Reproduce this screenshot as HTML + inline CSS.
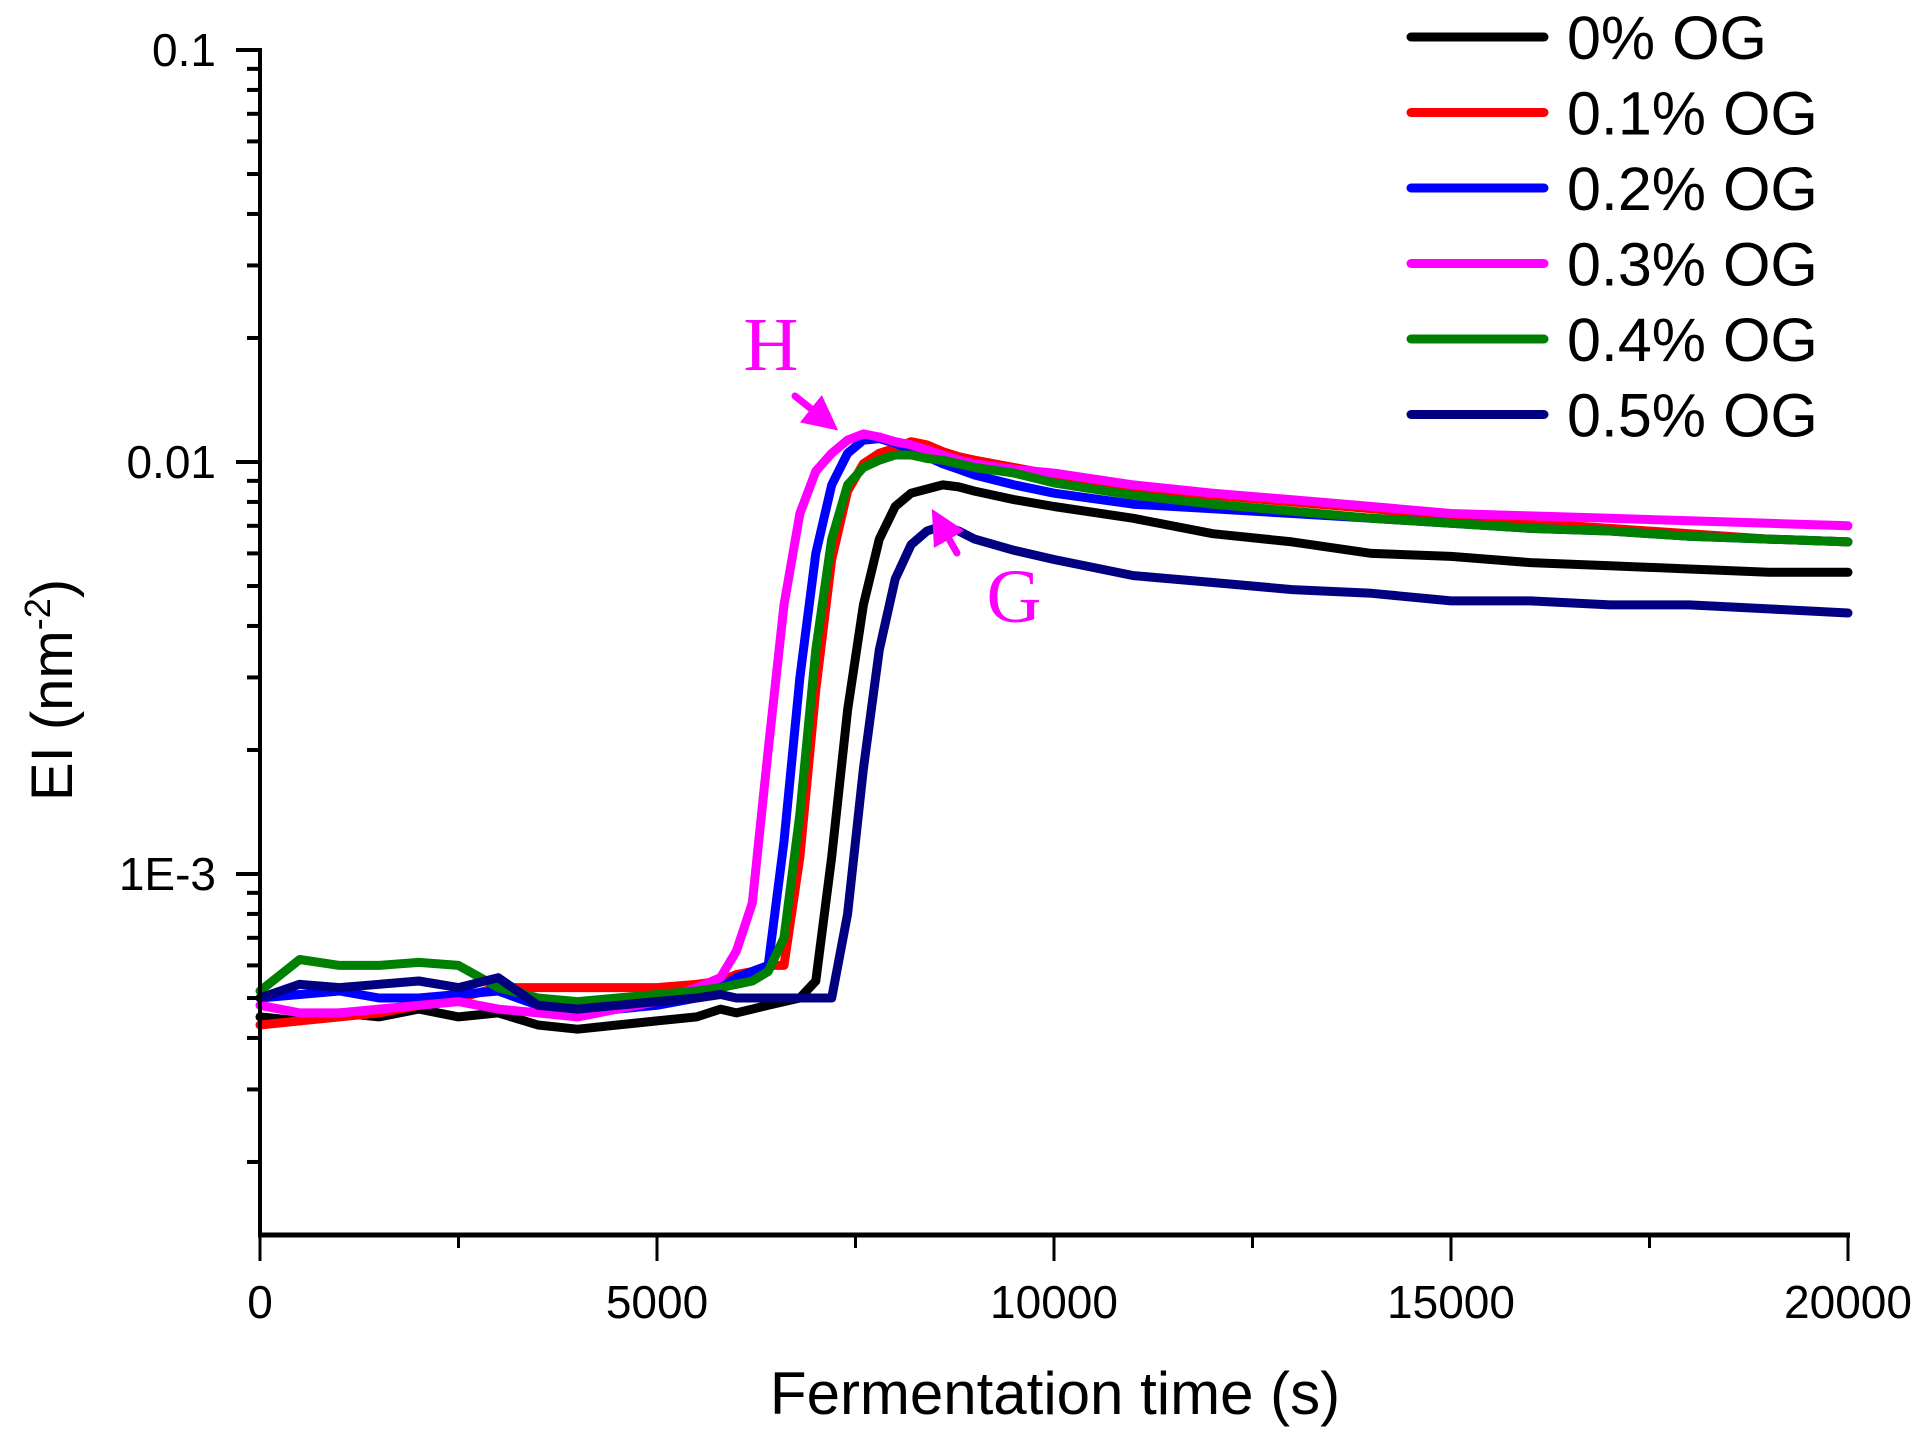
<!DOCTYPE html>
<html><head><meta charset="utf-8">
<style>
html,body{margin:0;padding:0;background:#fff;}
svg{display:block;}
text{font-family:"Liberation Sans",sans-serif;}
</style></head>
<body>
<svg id="chart" width="1922" height="1434" viewBox="0 0 1922 1434" xmlns="http://www.w3.org/2000/svg">
<g id="series"></g>
<g id="axes"></g>
<g id="legend"></g>
<g id="annot"></g>
</svg>
<script>
const times = [0,500,1000,1500,2000,2500,3000,3500,4000,4500,5000,5500,5800,6000,6200,6400,6600,6800,7000,7200,7400,7600,7800,8000,8200,8400,8600,8800,9000,9500,10000,11000,12000,13000,14000,15000,16000,17000,18000,19000,20000];
const s0 = [4.5e-4,4.4e-4,4.6e-4,4.5e-4,4.7e-4,4.5e-4,4.6e-4,4.3e-4,4.2e-4,4.3e-4,4.4e-4,4.5e-4,4.7e-4,4.6e-4,4.7e-4,4.8e-4,4.9e-4,5.0e-4,5.5e-4,0.0011,0.0025,0.0045,0.0065,0.0078,0.0084,0.0086,0.0088,0.0087,0.0085,0.0081,0.0078,0.0073,0.0067,0.0064,0.0060,0.0059,0.0057,0.0056,0.0055,0.0054,0.0054];
const s1 = [4.3e-4,4.4e-4,4.5e-4,4.6e-4,4.8e-4,5.0e-4,5.3e-4,5.3e-4,5.3e-4,5.3e-4,5.3e-4,5.4e-4,5.5e-4,5.7e-4,5.8e-4,6.0e-4,6.0e-4,0.0011,0.0028,0.0058,0.0085,0.0099,0.0105,0.0108,0.0112,0.0110,0.0106,0.0103,0.0101,0.0097,0.0093,0.0087,0.0083,0.0080,0.0077,0.0074,0.0071,0.0069,0.0067,0.0065,0.0064];
const s2 = [5.0e-4,5.1e-4,5.2e-4,5.0e-4,5.0e-4,5.1e-4,5.2e-4,4.8e-4,4.6e-4,4.7e-4,4.8e-4,5.0e-4,5.3e-4,5.6e-4,5.8e-4,6.0e-4,0.0012,0.0030,0.0060,0.0088,0.0105,0.0113,0.0114,0.0111,0.0107,0.0103,0.0099,0.0096,0.0093,0.0088,0.0084,0.0079,0.0077,0.0075,0.0073,0.0071,0.0069,0.0068,0.0066,0.0065,0.0064];
const s3 = [4.8e-4,4.6e-4,4.6e-4,4.7e-4,4.8e-4,4.9e-4,4.7e-4,4.6e-4,4.5e-4,4.7e-4,4.9e-4,5.3e-4,5.6e-4,6.5e-4,8.5e-4,0.0020,0.0045,0.0075,0.0095,0.0105,0.0113,0.0117,0.0115,0.0112,0.0110,0.0107,0.0104,0.0101,0.0099,0.0096,0.0094,0.0088,0.0084,0.0081,0.0078,0.0075,0.0074,0.0073,0.0072,0.0071,0.0070];
const s4 = [5.2e-4,6.2e-4,6.0e-4,6.0e-4,6.1e-4,6.0e-4,5.3e-4,5.0e-4,4.9e-4,5.0e-4,5.1e-4,5.2e-4,5.3e-4,5.4e-4,5.5e-4,5.8e-4,7.0e-4,0.0014,0.0035,0.0065,0.0088,0.0097,0.0101,0.0104,0.0104,0.0102,0.0101,0.0099,0.0097,0.0094,0.0089,0.0083,0.0079,0.0076,0.0073,0.0071,0.0069,0.0068,0.0066,0.0065,0.0064];
const s5 = [5.0e-4,5.4e-4,5.3e-4,5.4e-4,5.5e-4,5.3e-4,5.6e-4,4.8e-4,4.7e-4,4.8e-4,4.9e-4,5.0e-4,5.1e-4,5.0e-4,5.0e-4,5.0e-4,5.0e-4,5.0e-4,5.0e-4,5.0e-4,8.0e-4,0.0018,0.0035,0.0052,0.0063,0.0068,0.0070,0.0068,0.0065,0.0061,0.0058,0.0053,0.0051,0.0049,0.0048,0.0046,0.0046,0.0045,0.0045,0.0044,0.0043];
const seriesNames = ["0% OG","0.1% OG","0.2% OG","0.3% OG","0.4% OG","0.5% OG"];
const seriesColors = ["#000000","#ff0000","#0000ff","#ff00ff","#008000","#000080"];
const xTickLabels = ["0","5000","10000","15000","20000"];
const xTickValues = [0,5000,10000,15000,20000];
const yTickLabels = ["0.1","0.01","1E-3"];
const yTickValues = [0.1,0.01,0.001];

const NS="http://www.w3.org/2000/svg";
const X0=260,X1=1848,YB=1235,YTOP=50,DEC=412;
function xs(t){return X0+(t-0)/(20000-0)*(X1-X0);}
function ys(v){return YTOP+(-1-Math.log10(v))*DEC;}
function mk(tag,attrs,parent){const e=document.createElementNS(NS,tag);for(const k in attrs)e.setAttribute(k,attrs[k]);parent.appendChild(e);return e;}

const allSeries=[s0,s1,s2,s3,s4,s5];
const sg=document.getElementById('series');
allSeries.forEach((s,i)=>{
  const d=s.map((v,j)=>(j?'L':'M')+xs(times[j]).toFixed(1)+' '+ys(v).toFixed(1)).join(' ');
  const p=mk('path',{d:d,fill:'none',stroke:seriesColors[i],'stroke-width':9,'stroke-linejoin':'round','stroke-linecap':'round'},sg);
  
  
});

const ax=document.getElementById('axes');
const yl=mk('line',{x1:X0,y1:YTOP-2,x2:X0,y2:YB+2,stroke:'#000','stroke-width':4},ax);


const xl=mk('line',{x1:X0-2,y1:YB,x2:X1+2,y2:YB,stroke:'#000','stroke-width':5},ax);


for(let t=0;t<=20000;t+=2500){
  const major=t%5000===0;
  const tk=mk('line',{x1:xs(t),y1:YB,x2:xs(t),y2:YB+(major?26:13),stroke:'#000','stroke-width':3},ax);
  
  
}
xTickValues.forEach((v,i)=>{
  const tx=mk('text',{x:xs(v),y:1318,'font-size':46,'text-anchor':'middle'},ax);
  tx.textContent=xTickLabels[i];
  
  
});
for(let e=-4;e<=-2;e++){
  for(let m=1;m<=9;m++){
    const v=m*Math.pow(10,e);
    const y=ys(v);
    if(y>YB||y<YTOP-1)continue;
    const tk=mk('line',{x1:X0,y1:y,x2:X0-(m===1?24:13),y2:y,stroke:'#000','stroke-width':4},ax);
    
    
  }
}
{const tk=mk('line',{x1:X0,y1:ys(0.1),x2:X0-24,y2:ys(0.1),stroke:'#000','stroke-width':4},ax);

}
yTickValues.forEach((v,i)=>{
  const tx=mk('text',{x:216,y:ys(v)+16,'font-size':46,'text-anchor':'end'},ax);
  tx.textContent=yTickLabels[i];
  
  
});
const xt=mk('text',{x:1055,y:1414,'font-size':60,'text-anchor':'middle'},ax);
xt.textContent='Fermentation time (s)';


const yt=mk('text',{x:0,y:0,'font-size':58,'text-anchor':'middle',transform:'translate(72,690) rotate(-90)'},ax);
yt.innerHTML='EI (nm<tspan dy="-22" font-size="36">-2</tspan><tspan dy="22">)</tspan>';



const lg=document.getElementById('legend');
seriesNames.forEach((n,i)=>{
  const y=37+i*75.5;
  const ln=mk('line',{x1:1411,y1:y,x2:1544,y2:y,stroke:seriesColors[i],'stroke-width':9,'stroke-linecap':'round'},lg);
  
  
  const tx=mk('text',{x:1567,y:y+22,'font-size':61},lg);
  tx.textContent=n;
  
  
});

const an=document.getElementById('annot');
const defs=mk('defs',{},an);
const mkr=mk('marker',{id:'ah',markerWidth:5,markerHeight:5,refX:3.5,refY:2.5,orient:'auto',markerUnits:'strokeWidth'},defs);
mk('path',{d:'M0,0 L5,2.5 L0,5 Z',fill:'#ff00ff'},mkr);
const ha=mk('line',{x1:795,y1:396,x2:830,y2:424,stroke:'#ff00ff','stroke-width':7,'stroke-linecap':'round','marker-end':'url(#ah)'},an);


const ga=mk('line',{x1:957,y1:553,x2:937,y2:518,stroke:'#ff00ff','stroke-width':7,'stroke-linecap':'round','marker-end':'url(#ah)'},an);


const ht=mk('text',{x:771,y:370,'font-size':76,'text-anchor':'middle',fill:'#ff00ff',style:'font-family:"Liberation Serif",serif'},an);
ht.textContent='H';


const gt=mk('text',{x:1014,y:622,'font-size':76,'text-anchor':'middle',fill:'#ff00ff',style:'font-family:"Liberation Serif",serif'},an);
gt.textContent='G';


</script>
</body></html>
